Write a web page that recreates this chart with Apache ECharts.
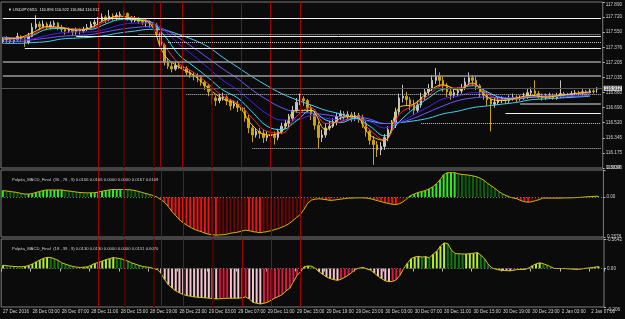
<!DOCTYPE html>
<html>
<head>
<meta charset="utf-8">
<script src="https://cdn.jsdelivr.net/npm/echarts@6/dist/echarts.min.js"></script>
<style>
html, body { margin: 0; padding: 0; background: #0b0b0b; }
#chart { width: 625px; height: 319px; }
</style>
</head>
<body>
<div id="chart"></div>
<script>
// USDJPY M15 chart, one slot = 30 min starting 27 Dec 23:00
var timeLabels = ['27 Dec 2016', '28 Dec 03:00', '28 Dec 07:00', '28 Dec 11:00', '28 Dec 15:00', '28 Dec 19:00',
    '28 Dec 23:00', '29 Dec 03:00', '29 Dec 07:00', '29 Dec 11:00', '29 Dec 15:00', '29 Dec 19:00', '29 Dec 23:00',
    '30 Dec 03:00', '30 Dec 07:00', '30 Dec 11:00', '30 Dec 15:00', '30 Dec 19:00', '30 Dec 23:00', '2 Jan 03:00', '2 Jan 07:00'];

var opens = [117.44,117.46,117.47,117.44,117.46,117.50,117.47,117.43,117.50,117.60,
    117.64,117.61,117.64,117.60,117.63,117.65,117.60,117.58,117.56,117.57,
    117.55,117.57,117.56,117.58,117.60,117.64,117.66,117.68,117.72,117.69,
    117.73,117.72,117.74,117.75,117.76,117.72,117.68,117.69,117.67,117.66,
    117.66,117.65,117.63,117.54,117.40,117.21,117.16,117.13,117.17,117.16,
    117.14,117.09,117.06,117.05,117.04,116.98,116.94,116.87,116.80,116.77,
    116.80,116.81,116.77,116.71,116.73,116.69,116.66,116.57,116.46,116.38,
    116.42,116.40,116.35,116.37,116.38,116.35,116.42,116.48,116.51,116.57,
    116.66,116.75,116.79,116.77,116.69,116.62,116.49,116.35,116.38,116.46,
    116.48,116.53,116.59,116.62,116.59,116.61,116.57,116.60,116.57,116.51,
    116.42,116.32,116.27,116.21,116.25,116.35,116.44,116.49,116.64,116.80,
    116.82,116.78,116.73,116.66,116.72,116.81,116.87,116.91,117.00,117.05,
    117.00,116.94,116.87,116.83,116.86,116.88,116.92,116.98,117.03,117.00,
    116.94,116.87,116.83,116.78,116.73,116.75,116.78,116.79,116.77,116.80,
    116.81,116.79,116.80,116.81,116.86,116.88,116.85,116.82,116.80,116.81,
    116.82,116.80,116.82,116.85,116.83,116.82,116.85,116.86,116.85,116.87,
    116.86,116.88,116.90];
var closes = [117.46,117.47,117.44,117.46,117.50,117.47,117.43,117.50,117.60,117.64,
    117.61,117.64,117.60,117.63,117.65,117.60,117.58,117.56,117.57,117.55,
    117.57,117.56,117.58,117.60,117.64,117.66,117.68,117.72,117.69,117.73,
    117.72,117.74,117.75,117.76,117.72,117.68,117.69,117.67,117.66,117.66,
    117.65,117.63,117.54,117.40,117.21,117.16,117.13,117.17,117.16,117.14,
    117.09,117.06,117.05,117.04,116.98,116.94,116.87,116.80,116.77,116.80,
    116.81,116.77,116.71,116.73,116.69,116.66,116.57,116.46,116.38,116.42,
    116.40,116.35,116.37,116.38,116.35,116.42,116.48,116.51,116.57,116.66,
    116.75,116.79,116.77,116.69,116.62,116.49,116.35,116.38,116.46,116.48,
    116.53,116.59,116.62,116.59,116.61,116.57,116.60,116.57,116.51,116.42,
    116.32,116.27,116.21,116.25,116.35,116.44,116.49,116.64,116.80,116.82,
    116.78,116.73,116.66,116.72,116.81,116.87,116.91,117.00,117.05,117.00,
    116.94,116.87,116.83,116.86,116.88,116.92,116.98,117.03,117.00,116.94,
    116.87,116.83,116.78,116.73,116.75,116.78,116.79,116.77,116.80,116.81,
    116.79,116.80,116.81,116.86,116.88,116.85,116.82,116.80,116.81,116.82,
    116.80,116.82,116.85,116.83,116.82,116.85,116.86,116.85,116.87,116.86,
    116.88,116.87,116.912];
var highs = [117.49,117.50,117.49,117.48,117.54,117.51,117.48,117.54,117.65,117.74,
    117.67,117.68,117.66,117.67,117.68,117.66,117.63,117.60,117.60,117.59,
    117.60,117.59,117.61,117.64,117.67,117.69,117.72,117.76,117.74,117.80,
    117.76,117.77,117.78,117.80,117.77,117.73,117.73,117.72,117.69,117.69,
    117.68,117.67,117.65,117.56,117.42,117.25,117.20,117.21,117.21,117.20,
    117.16,117.12,117.09,117.08,117.06,117.00,116.96,116.90,116.83,116.85,
    116.86,116.83,116.79,116.77,116.77,116.72,116.69,116.61,116.49,116.46,
    116.46,116.44,116.42,116.43,116.42,116.45,116.52,116.55,116.62,116.71,
    116.80,116.85,116.82,116.79,116.72,116.65,116.53,116.44,116.51,116.54,
    116.57,116.63,116.66,116.65,116.65,116.64,116.64,116.63,116.61,116.54,
    116.45,116.37,116.31,116.30,116.39,116.48,116.55,116.69,116.85,116.95,
    116.87,116.81,116.78,116.77,116.86,116.91,116.96,117.06,117.14,117.09,
    117.04,116.97,116.91,116.90,116.92,116.96,117.03,117.09,117.06,117.04,
    116.96,116.90,116.87,116.81,116.80,116.82,116.82,116.81,116.83,116.85,
    116.83,116.83,116.86,116.90,116.92,117.00,116.88,116.85,116.85,116.86,
    116.85,116.86,117.00,116.87,116.86,116.88,116.89,116.88,116.90,116.89,
    116.91,116.90,116.922];
var lows = [117.42,117.43,117.42,117.42,117.44,117.44,117.38,117.41,117.49,117.58,
    117.57,117.59,117.57,117.58,117.59,117.57,117.55,117.52,117.54,117.51,
    117.52,117.52,117.54,117.56,117.58,117.61,117.63,117.66,117.65,117.67,
    117.68,117.68,117.71,117.72,117.68,117.65,117.66,117.64,117.63,117.61,
    117.60,117.58,117.50,117.37,117.17,117.13,117.09,117.11,117.13,117.11,
    117.06,117.03,117.00,116.98,116.94,116.89,116.82,116.73,116.71,116.74,
    116.77,116.72,116.66,116.68,116.64,116.61,116.53,116.40,116.30,116.35,
    116.34,116.29,116.31,116.32,116.27,116.32,116.39,116.45,116.47,116.54,
    116.63,116.72,116.71,116.64,116.55,116.44,116.23,116.30,116.35,116.43,
    116.46,116.49,116.55,116.54,116.55,116.53,116.54,116.52,116.46,116.36,
    116.27,116.04,116.13,116.15,116.21,116.31,116.40,116.46,116.61,116.75,
    116.71,116.66,116.61,116.63,116.69,116.78,116.83,116.88,116.96,116.94,
    116.87,116.81,116.78,116.80,116.82,116.85,116.89,116.95,116.94,116.89,
    116.81,116.78,116.71,116.42,116.69,116.72,116.74,116.73,116.74,116.77,
    116.75,116.77,116.78,116.79,116.82,116.81,116.79,116.77,116.78,116.79,
    116.78,116.78,116.80,116.80,116.80,116.81,116.82,116.82,116.83,116.83,
    116.85,116.85,116.86];

// moving averages, read every 4th slot
var maYellow = [117.47,117.48,117.54,117.61,117.60,117.57,117.60,117.69,117.73,117.69,117.65,117.29,117.15,117.06,116.91,
    116.79,116.72,116.49,116.38,116.42,116.66,116.66,116.44,116.57,116.59,116.38,116.32,116.69,116.73,116.87,116.95,
    116.89,116.97,116.81,116.77,116.80,116.83,116.81,116.83,116.85,116.87];
var maRed = [117.48,117.48,117.52,117.60,117.60,117.58,117.59,117.67,117.72,117.71,117.66,117.40,117.19,117.09,116.96,
    116.82,116.74,116.57,116.42,116.40,116.59,116.69,116.51,116.53,116.59,116.44,116.32,116.61,116.72,116.83,116.94,
    116.91,116.95,116.85,116.78,116.79,116.82,116.82,116.83,116.85,116.86];
var maCyan = [117.49,117.48,117.51,117.58,117.59,117.58,117.58,117.64,117.69,117.69,117.67,117.51,117.29,117.16,117.03,
    116.89,116.80,116.64,116.48,116.44,116.54,116.66,116.55,116.52,116.57,116.48,116.37,116.53,116.68,116.80,116.90,
    116.91,116.94,116.87,116.80,116.79,116.81,116.82,116.83,116.85,116.86];
var maPurple = [117.46,117.46,117.47,117.51,117.54,117.55,117.55,117.58,117.63,117.65,117.65,117.57,117.41,117.28,117.14,
    117.00,116.89,116.75,116.62,116.55,116.55,116.60,116.57,116.55,116.56,116.53,116.46,116.52,116.61,116.70,116.79,
    116.82,116.86,116.85,116.81,116.80,116.81,116.82,116.82,116.83,116.85];
var maBlue = [117.44,117.44,117.46,117.48,117.50,117.51,117.52,117.55,117.58,117.60,117.61,117.58,117.48,117.37,117.25,
    117.13,117.02,116.89,116.78,116.69,116.64,116.63,116.61,116.59,116.59,116.56,116.51,116.52,116.57,116.64,116.71,
    116.77,116.80,116.81,116.80,116.80,116.81,116.81,116.82,116.82,116.83];
var maSky = [117.42,117.42,117.43,117.44,117.47,117.48,117.49,117.51,117.54,117.56,117.58,117.57,117.52,117.46,117.38,
    117.26,117.15,117.04,116.94,116.85,116.78,116.72,116.66,116.62,116.57,116.54,116.51,116.52,116.54,116.57,116.62,
    116.65,116.69,116.71,116.73,116.75,116.78,116.79,116.80,116.81,116.82];

var macdSlow = [0.093,0.086,0.079,0.072,0.065,0.050,0.043,0.043,0.050,0.065,
    0.079,0.093,0.101,0.101,0.101,0.101,0.101,0.093,0.086,0.079,
    0.072,0.065,0.062,0.060,0.060,0.062,0.072,0.083,0.093,0.101,
    0.108,0.108,0.108,0.108,0.105,0.101,0.093,0.079,0.065,0.050,
    0.036,0.022,0.000,-0.036,-0.072,-0.129,-0.201,-0.258,-0.316,-0.359,
    -0.395,-0.424,-0.452,-0.474,-0.488,-0.510,-0.524,-0.531,-0.539,-0.534,
    -0.531,-0.524,-0.510,-0.503,-0.495,-0.481,-0.467,-0.474,-0.488,-0.495,
    -0.503,-0.495,-0.488,-0.474,-0.460,-0.445,-0.424,-0.402,-0.373,-0.330,
    -0.287,-0.244,-0.172,-0.086,-0.043,-0.029,-0.024,-0.029,-0.036,-0.046,
    -0.043,-0.036,-0.029,-0.022,-0.014,-0.014,-0.011,-0.010,-0.010,-0.014,
    -0.022,-0.036,-0.050,-0.065,-0.079,-0.090,-0.101,-0.105,-0.093,-0.065,
    -0.022,0.022,0.043,0.065,0.079,0.093,0.115,0.144,0.187,0.244,
    0.316,0.345,0.345,0.345,0.330,0.320,0.316,0.309,0.299,0.287,
    0.266,0.237,0.194,0.158,0.122,0.079,0.047,0.022,0.000,-0.014,
    -0.024,-0.050,-0.065,-0.072,-0.065,-0.050,-0.036,-0.014,-0.014,-0.014,
    -0.014,-0.014,-0.014,-0.011,-0.011,-0.010,-0.007,-0.004,0.000,0.004,
    0.007,0.011,0.014];
var macdFast = [0.0174,0.0152,0.0125,0.0109,0.0098,0.0092,0.0109,0.0163,0.0244,0.0353,
    0.0451,0.0543,0.0597,0.0586,0.0516,0.0434,0.0299,0.0233,0.0163,0.0109,
    0.0076,0.0054,0.0071,0.0092,0.0179,0.0272,0.0326,0.0396,0.0472,0.0527,
    0.0581,0.0554,0.0527,0.0462,0.0391,0.0299,0.0233,0.0163,0.0109,0.0081,
    0.0054,-0.0011,-0.0054,-0.0261,-0.0597,-0.0869,-0.1048,-0.1195,-0.1303,-0.1385,
    -0.1450,-0.1482,-0.1520,-0.1542,-0.1553,-0.1569,-0.1586,-0.1607,-0.1629,-0.1618,
    -0.1602,-0.1591,-0.1591,-0.1591,-0.1591,-0.1564,-0.1520,-0.1629,-0.1808,-0.1857,
    -0.1901,-0.1857,-0.1808,-0.1683,-0.1575,-0.1493,-0.1385,-0.1195,-0.1059,-0.0706,
    -0.0364,-0.0163,0.0098,0.0136,0.0119,0.0000,-0.0179,-0.0315,-0.0451,-0.0543,
    -0.0597,-0.0635,-0.0570,-0.0467,-0.0348,-0.0195,-0.0038,0.0027,0.0054,-0.0027,
    -0.0092,-0.0244,-0.0407,-0.0543,-0.0662,-0.0706,-0.0695,-0.0597,-0.0364,0.0000,
    0.0272,0.0527,0.0614,0.0652,0.0608,0.0635,0.0565,0.0760,0.0923,0.1195,
    0.1368,0.1330,0.0977,0.0804,0.0787,0.0776,0.0776,0.0793,0.0815,0.0853,
    0.0717,0.0516,0.0233,0.0033,-0.0033,-0.0081,-0.0103,-0.0114,-0.0125,-0.0087,
    -0.0054,-0.0054,-0.0054,0.0027,0.0147,0.0244,0.0304,0.0255,0.0179,0.0092,
    0.0000,0.0000,0.0000,-0.0011,-0.0022,-0.0033,-0.0049,-0.0038,-0.0005,0.0022,
    0.0043,0.0071,0.0109];

var priceTicks = [116.005, 116.175, 116.345, 116.520, 116.690, 116.860, 117.035, 117.205, 117.376, 117.550, 117.720, 117.890];
var macdSlowTicks = [0.3834, 0, -0.5642];
var macdFastTicks = [0.1578, 0, -0.206];
var bidPrice = 116.912;

// horizontal objects: [price, first slot]
var whiteLevels = [[117.71, 0], [117.50, 20], [117.37, 6], [116.63, 137]];
var grayLevels = [[117.21, 0], [117.05, 0], [116.74, 141]];
var dottedLevels = [[117.52, 37], [117.43, 45], [116.84, 50], [116.51, 114], [116.23, 68]];
// vertical session lines (slot index)
var redLines = [26, 43, 49, 65, 73, 81];
var darkRedLines = [33, 41, 57];

var slotCount = 164;
var slots = [];
for (var i = 0; i < slotCount; i++) {
    slots.push(i % 8 === 0 ? timeLabels[i / 8] : '');
}
var candles = opens.map(function(o, i) {
    return [o, closes[i], lows[i], highs[i]];
});
function spread(ma) {
    var out = [];
    for (var i = 0; i < slotCount; i++) out.push(null);
    ma.forEach(function(v, k) { out[k * 4] = v; });
    return out;
}

var textFont = 'Liberation Sans';
var labelColor = '#d2d2d2';

function vLines(gi) {
    var data = [];
    redLines.forEach(function(s) {
        data.push({ xAxis: s, lineStyle: { color: '#a00000', width: 1, type: 'solid' } });
    });
    darkRedLines.forEach(function(s) {
        data.push({ xAxis: s, lineStyle: { color: '#5c0000', width: 1.5, type: 'solid' } });
    });
    return {
        type: 'line', xAxisIndex: gi, yAxisIndex: gi, data: [], z: 1, silent: true,
        markLine: { symbol: 'none', silent: true, label: { show: false }, data: data }
    };
}

function maSeries(data, color) {
    return {
        type: 'line', xAxisIndex: 0, yAxisIndex: 0, data: spread(data), connectNulls: true,
        showSymbol: false, symbol: 'none', smooth: 0.4, z: 4,
        lineStyle: { color: color, width: 1 }
    };
}

var levelLines = [];
whiteLevels.forEach(function(l) {
    levelLines.push([{ coord: [l[1], l[0]], lineStyle: { color: '#f2f2f2', width: 1, type: 'solid' } }, { coord: [slotCount - 1, l[0]] }]);
});
grayLevels.forEach(function(l) {
    levelLines.push([{ coord: [l[1], l[0]], lineStyle: { color: '#9a9a9a', width: 1.5, type: 'solid' } }, { coord: [slotCount - 1, l[0]] }]);
});
dottedLevels.forEach(function(l) {
    levelLines.push([{ coord: [l[1], l[0]], lineStyle: { color: '#c8c8c8', width: 1, type: [1, 1] } }, { coord: [slotCount - 1, l[0]] }]);
});

function histColor(values, up, upFall, down, downRise) {
    return function(p) {
        var v = values[p.dataIndex];
        var prev = p.dataIndex > 0 ? values[p.dataIndex - 1] : v;
        if (v >= 0) return v >= prev ? up : upFall;
        return v <= prev ? down : downRise;
    };
}

function axisLabelStyle(ticks, fmt, alignMin) {
    var s = {
        customValues: ticks, formatter: fmt, color: labelColor, fontSize: 4.6, fontFamily: textFont,
        margin: 3, verticalAlignMaxLabel: 'top'
    };
    if (alignMin) s.verticalAlignMinLabel = 'bottom';
    return s;
}

var chart = echarts.init(document.getElementById('chart'));
var option = {
    backgroundColor: '#0b0b0b',
    animation: false,
    title: [{
        text: '\u25BC USDJPY,M15  116.896 116.922 116.864 116.912', left: 3, top: 3,
        textStyle: { color: '#e6e6e6', fontSize: 4, fontWeight: 'normal', fontFamily: textFont }
    }, {
        text: 'Pulpita_MACD_Final  (36 , 78 , 9) 0.0166 0.0166 0.0000 0.0000 0.0167 0.0109', left: 7, top: 173,
        textStyle: { color: '#cfcfcf', fontSize: 4.2, fontWeight: 'normal', fontFamily: textFont }
    }, {
        text: 'Pulpita_MACD_Final  (18 , 39 , 9) 0.0130 0.0130 0.0000 0.0000 0.0131 0.0070', left: 7, top: 242,
        textStyle: { color: '#cfcfcf', fontSize: 4.2, fontWeight: 'normal', fontFamily: textFont }
    }],
    grid: [
        { left: 1, right: 21, top: 2, height: 166, show: true, borderColor: '#7c7c7c', borderWidth: 1, backgroundColor: 'transparent' },
        { left: 1, right: 21, top: 170, height: 67, show: true, borderColor: '#7c7c7c', borderWidth: 1 },
        { left: 1, right: 21, top: 239, height: 68, show: true, borderColor: '#7c7c7c', borderWidth: 1 }
    ],
    xAxis: [0, 1, 2].map(function(gi) {
        return {
            type: 'category', gridIndex: gi, data: slots, boundaryGap: true,
            axisLine: { show: false },
            axisTick: { show: gi === 2, interval: 7, length: 3, lineStyle: { color: '#bdbdbd' } },
            axisLabel: {
                show: gi === 2, interval: 7, align: 'left', margin: 2, color: labelColor,
                fontSize: 4.6, fontFamily: textFont
            },
            splitLine: { show: false }
        };
    }),
    yAxis: [{
        type: 'value', gridIndex: 0, position: 'right', min: 116.005, max: 117.890,
        axisLine: { show: false }, splitLine: { show: false },
        axisTick: { show: true, customValues: priceTicks, length: 2, lineStyle: { color: '#bdbdbd' } },
        axisLabel: axisLabelStyle(priceTicks, function(v) { return v.toFixed(3); }, false)
    }, {
        type: 'value', gridIndex: 1, position: 'right', min: -0.5642, max: 0.3834,
        axisLine: { show: false }, splitLine: { show: false },
        axisTick: { show: true, customValues: macdSlowTicks, length: 2, lineStyle: { color: '#bdbdbd' } },
        axisLabel: axisLabelStyle(macdSlowTicks, function(v) { return v === 0 ? '0.00' : String(v); }, true)
    }, {
        type: 'value', gridIndex: 2, position: 'right', min: -0.206, max: 0.1578,
        axisLine: { show: false }, splitLine: { show: false },
        axisTick: { show: true, customValues: macdFastTicks, length: 2, lineStyle: { color: '#bdbdbd' } },
        axisLabel: axisLabelStyle(macdFastTicks, function(v) { return v === 0 ? '0.00' : String(v); }, true)
    }],
    series: [
        vLines(0), vLines(1), vLines(2),
        {
            type: 'line', xAxisIndex: 0, yAxisIndex: 0, data: [], z: 2, silent: true,
            markLine: {
                symbol: 'none', silent: true, label: { show: false },
                data: levelLines.concat([{
                    yAxis: bidPrice, lineStyle: { color: '#555555', width: 1, type: 'solid' },
                    label: {
                        show: true, position: 'end', distance: 1, formatter: bidPrice.toFixed(3),
                        color: '#111', backgroundColor: '#d8d8d8', fontSize: 4.6, fontFamily: textFont,
                        padding: [0, 1]
                    }
                }])
            }
        },
        {
            type: 'candlestick', xAxisIndex: 0, yAxisIndex: 0, data: candles, barWidth: 2, z: 3,
            itemStyle: { color: '#c4c4c4', color0: '#c9a20c', borderColor: '#c4c4c4', borderColor0: '#c9a20c', borderWidth: 1 }
        },
        maSeries(maSky, '#46cff2'),
        maSeries(maBlue, '#6a5cff'),
        maSeries(maPurple, '#4a1cff'),
        maSeries(maCyan, '#22e6ff'),
        maSeries(maRed, '#ff2250'),
        maSeries(maYellow, '#ffd400'),
        {
            type: 'bar', xAxisIndex: 1, yAxisIndex: 1, data: macdSlow, barWidth: 2, z: 3,
            itemStyle: { color: histColor(macdSlow, '#2cf01e', '#0b5f0b', '#f21010', '#6a0606') },
            markLine: {
                symbol: 'none', silent: true, label: { show: false },
                data: [{ yAxis: 0, lineStyle: { color: '#7a7a7a', width: 1, type: [1, 2] } }]
            }
        },
        {
            type: 'line', xAxisIndex: 1, yAxisIndex: 1, data: macdSlow, showSymbol: false, symbol: 'none', z: 4,
            lineStyle: { color: '#cdbb0a', width: 1 }
        },
        {
            type: 'bar', xAxisIndex: 2, yAxisIndex: 2, data: macdFast, barWidth: 2, z: 3,
            itemStyle: { color: histColor(macdFast, '#b4f02a', '#0e7a0e', '#f4c4cf', '#e0163e') },
            markLine: {
                symbol: 'none', silent: true, label: { show: false },
                data: [{ yAxis: 0, lineStyle: { color: '#7a7a7a', width: 1, type: [1, 2] } }]
            }
        },
        {
            type: 'line', xAxisIndex: 2, yAxisIndex: 2, data: macdFast, showSymbol: false, symbol: 'none', z: 4,
            lineStyle: { color: '#d6c40c', width: 1 }
        }
    ]
};
chart.setOption(option);
</script>
</body>
</html>
